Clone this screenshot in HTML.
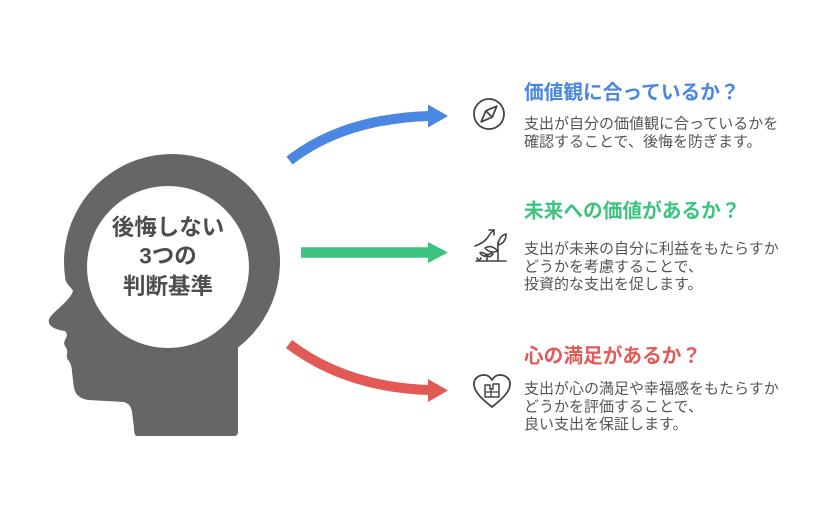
<!DOCTYPE html>
<html>
<head>
<meta charset="utf-8">
<style>
  html,body{margin:0;padding:0;background:#fff;}
  body{width:822px;height:516px;overflow:hidden;}
  svg{display:block;}
  .t{font-family:"Liberation Sans","Noto Sans CJK JP",sans-serif;}
</style>
</head>
<body>
<svg width="822" height="516" viewBox="0 0 822 516" xmlns="http://www.w3.org/2000/svg">
  <rect width="822" height="516" fill="#ffffff"/>

  <!-- Head silhouette -->
  <path fill="#666666" d="
    M 136 436
    L 234 436 Q 238 436 238 432
    L 238 347.5
    A 108 108 0 1 0 65.5 280
    C 67 285 72 288 73 291
    C 70 300 58 308 51 316
    Q 47 321 50 325
    Q 55 330 65 331
    Q 68 334 66 338
    Q 63 343 65 346
    Q 68 350 67 354
    Q 66 358 69 361
    Q 72 366 72 372
    L 74 388
    Q 76 398 88 400
    L 124 402
    Q 131 404 132 412
    L 134 428
    Q 134 434 136 436 Z"/>
  <circle cx="168" cy="267" r="81" fill="#ffffff"/>

  <g class="t" font-size="22.5" font-weight="bold" fill="#4d4d4d" text-anchor="middle">
    <text x="168" y="235">後悔しない</text>
    <text x="168" y="263.5">3つの</text>
    <text x="168" y="294">判断基準</text>
  </g>

  <!-- Arrows -->
  <path d="M 289.5 160.5 C 325 133 370 118 429 116" fill="none" stroke="#4a87e2" stroke-width="10"/>
  <polygon points="428,104.5 448,116 428,127.5" fill="#4a87e2"/>

  <path d="M 301 252.5 L 429 252.5" fill="none" stroke="#3dc380" stroke-width="10.5"/>
  <polygon points="428,242 448,252.5 428,263" fill="#3dc380"/>

  <path d="M 289 344 C 325 371.5 370 388 429 390" fill="none" stroke="#e25a55" stroke-width="10"/>
  <polygon points="428,379 448,390.5 428,402" fill="#e25a55"/>

  <!-- Compass icon -->
  <g fill="none" stroke="#444" stroke-width="1.8" stroke-linejoin="round">
    <circle cx="489" cy="114" r="15"/>
    <polygon points="496.8,106.2 492.2,117.2 481.2,121.8 485.8,110.8"/>
    <line x1="492.2" y1="117.2" x2="485.8" y2="110.8"/>
  </g>

  <!-- Growth icon -->
  <g fill="none" stroke="#444" stroke-width="1.6" stroke-linecap="round" stroke-linejoin="round">
    <line x1="476" y1="261" x2="506" y2="261"/>
    <path d="M 477 258 L 479 261 M 481 258 L 479 261"/>
    <line x1="498" y1="261" x2="498" y2="242"/>
    <path d="M 498 245 Q 499 236 506 234 Q 506 243 498 245 Z"/>
    <path d="M 498 251 Q 491 244 485 248 Q 490 254 498 251 Z"/>
    <line x1="487" y1="261" x2="487" y2="254"/>
    <path d="M 487 256 Q 483 251 480 253 Q 483 257 487 256"/>
    <path d="M 487 256 Q 491 252 493 254 Q 490 258 487 256"/>
    <path d="M 475 246 Q 484 243 488 237 Q 491 232 494 230"/>
    <path d="M 489 230 L 494 230 L 494 235"/>
  </g>

  <!-- Heart icon -->
  <g fill="none" stroke="#444" stroke-width="1.8" stroke-linejoin="round">
    <path d="M 492 407 C 478 396 474 390 474 384 C 474 378 479 375 484 375 C 488 375 490 377 492 380 C 494 377 496 375 500 375 C 505 375 510 378 510 384 C 510 390 506 396 492 407 Z"/>
    <path d="M 485 397 L 485 385 L 490 385 L 490 389 L 493 389 L 493 384 L 499 384 L 499 397 Z" stroke-width="1.5"/>
    <path d="M 485 392 L 499 392 M 491 389 L 491 397" stroke-width="1.3"/>
  </g>

  <!-- Block 1 -->
  <g class="t">
    <text x="524" y="99" font-size="19.7" font-weight="bold" fill="#4a87e2">価値観に合っているか？</text>
    <g font-size="15" fill="#555555">
      <text x="524" y="128.7">支出が自分の価値観に合っているかを</text>
      <text x="524" y="146.7">確認することで、後悔を防ぎます。</text>
    </g>
  </g>

  <!-- Block 2 -->
  <g class="t">
    <text x="524" y="217.5" font-size="19.7" font-weight="bold" fill="#3dc380">未来への価値があるか？</text>
    <g font-size="15" fill="#555555">
      <text x="524" y="253.7">支出が未来の自分に利益をもたらすか</text>
      <text x="524" y="271.5">どうかを考慮することで、</text>
      <text x="524" y="289">投資的な支出を促します。</text>
    </g>
  </g>

  <!-- Block 3 -->
  <g class="t">
    <text x="524" y="362.5" font-size="19.7" font-weight="bold" fill="#e25a55">心の満足があるか？</text>
    <g font-size="15" fill="#555555">
      <text x="524" y="393.7">支出が心の満足や幸福感をもたらすか</text>
      <text x="524" y="411.5">どうかを評価することで、</text>
      <text x="524" y="429">良い支出を保証します。</text>
    </g>
  </g>
</svg>
</body>
</html>
